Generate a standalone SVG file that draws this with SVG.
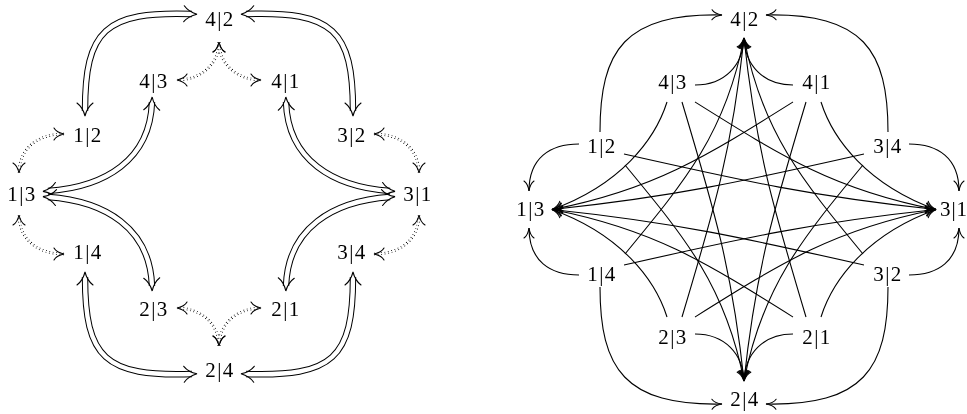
<svg xmlns="http://www.w3.org/2000/svg" width="967" height="414" viewBox="0 0 967 414">
<style>
  text { font-family: "Liberation Serif", "Times New Roman", serif; font-size: 21px; text-anchor: middle; letter-spacing: 1.5px; fill: #000; }
  .nodes { filter: grayscale(100%); }
  .ln { fill: none; stroke: #000; stroke-width: 1.1; marker-end: url(#ar); }
  .dbo { fill: none; stroke: #000; stroke-width: 6.4; }
  .dbi { fill: none; stroke: #fff; stroke-width: 4.4; }
  .dbm { fill: none; stroke: none; marker-start: url(#a2); marker-end: url(#a2); }
  .dto { fill: none; stroke: #000; stroke-width: 2.6; stroke-dasharray: 0.9 2.6; }
  .dti { fill: none; stroke: #fff; stroke-width: 1; }
  .dtm { fill: none; stroke: none; marker-start: url(#ad); marker-end: url(#ad); }
</style>
<defs>
  <marker id="ar" markerUnits="userSpaceOnUse" orient="auto-start-reverse" overflow="visible" markerWidth="1" markerHeight="1">
    <path d="M -10 -5 C -8.3 -2.4, -3.3 -0.5, 0 0 C -3.3 0.5, -8.3 2.4, -10 5" fill="none" stroke="#000" stroke-width="1.1" stroke-linecap="round"/>
  </marker>
  <marker id="ad" markerUnits="userSpaceOnUse" orient="auto-start-reverse" overflow="visible" markerWidth="1" markerHeight="1">
    <path d="M -10 -6 C -8.3 -3, -3.3 -0.7, 0 0 C -3.3 0.7, -8.3 3, -10 6" fill="none" stroke="#000" stroke-width="1.1" stroke-linecap="round"/>
  </marker>
  <marker id="a2" markerUnits="userSpaceOnUse" orient="auto-start-reverse" overflow="visible" markerWidth="1" markerHeight="1">
    <path d="M -8 -8 C -5 -4, 1 -1, 5 0 C 1 1, -5 4, -8 8" fill="none" stroke="#000" stroke-width="1.1" stroke-linecap="round"/>
  </marker>

  <g id="lq">
    <path class="dbo" d="M 85 111 C 85 30, 105 11, 192 14"/>
    <path class="dbi" d="M 85 111 C 85 30, 105 11, 192 14"/>
    <path class="dbm" d="M 85 111 C 85 30, 105 11, 192 14"/>
    <path class="dbo" d="M 152 102 C 150 160, 105 187, 48 191"/>
    <path class="dbi" d="M 152 102 C 150 160, 105 187, 48 191"/>
    <path class="dbm" d="M 152 102 C 150 160, 105 187, 48 191"/>
    <path class="dto" d="M 219 42 C 219 65, 200 80, 177 80"/>
    <path class="dti" d="M 219 42 C 219 65, 200 80, 177 80"/>
    <path class="dtm" d="M 219 42 C 219 65, 200 80, 177 80"/>
    <path class="dto" d="M 64 134 C 36 134, 19 150, 19 173"/>
    <path class="dti" d="M 64 134 C 36 134, 19 150, 19 173"/>
    <path class="dtm" d="M 64 134 C 36 134, 19 150, 19 173"/>
  </g>

  <g id="rq">
    <path class="ln" d="M 600 132 C 600 50, 625 13, 722 15"/>
    <path class="ln" d="M 579 144 C 550 144, 529 158, 529 191"/>
    <path class="ln" d="M 624 154 C 745 181.3, 812.7 196.5, 936 209.5"/>
    <path class="ln" d="M 625 165 C 686.2 239, 725.7 286.8, 744 381"/>
    <path class="ln" d="M 695 85 C 725 85, 743 65, 744 38"/>
    <path class="ln" d="M 667 102 C 655 140, 620 185, 552 209.5"/>
    <path class="ln" d="M 682 102 C 714 208.8, 732.3 270.1, 744 381"/>
    <path class="ln" d="M 695 102 C 782.2 156.7, 834.9 189.8, 936 209.5"/>
  </g>
</defs>

<rect width="967" height="414" fill="#fff"/>

<g id="connectors">
  <g id="left-connectors">
    <use href="#lq"/>
    <use href="#lq" transform="matrix(-1 0 0 1 438 0)"/>
    <use href="#lq" transform="matrix(1 0 0 -1 0 388)"/>
    <use href="#lq" transform="matrix(-1 0 0 -1 438 388)"/>
  </g>
  <g id="right-connectors">
    <use href="#rq"/>
    <use href="#rq" transform="matrix(-1 0 0 1 1488 0)"/>
    <use href="#rq" transform="matrix(1 0 0 -1 0 419)"/>
    <use href="#rq" transform="matrix(-1 0 0 -1 1488 419)"/>
  </g>
</g>

<g id="left-nodes" class="nodes">
  <g id="l42"><text x="220" y="26">4|2</text></g>
  <g id="l43"><text x="154" y="88">4|3</text></g>
  <g id="l41"><text x="286" y="88">4|1</text></g>
  <g id="l12"><text x="88" y="142">1|2</text></g>
  <g id="l32"><text x="352" y="142">3|2</text></g>
  <g id="l13"><text x="22" y="201">1|3</text></g>
  <g id="l31"><text x="418" y="201">3|1</text></g>
  <g id="l14"><text x="88" y="259">1|4</text></g>
  <g id="l34"><text x="352" y="259">3|4</text></g>
  <g id="l23"><text x="154" y="316">2|3</text></g>
  <g id="l21"><text x="286" y="316">2|1</text></g>
  <g id="l24"><text x="220" y="377">2|4</text></g>
</g>

<g id="right-nodes" class="nodes">
  <g id="r42"><text x="745" y="26">4|2</text></g>
  <g id="r43"><text x="673" y="89">4|3</text></g>
  <g id="r41"><text x="817" y="89">4|1</text></g>
  <g id="r12"><text x="602" y="153">1|2</text></g>
  <g id="r34"><text x="888" y="153">3|4</text></g>
  <g id="r13"><text x="531" y="216">1|3</text></g>
  <g id="r31"><text x="954" y="216" style="letter-spacing:1px">3|1</text></g>
  <g id="r14"><text x="602" y="281">1|4</text></g>
  <g id="r32"><text x="888" y="281">3|2</text></g>
  <g id="r23"><text x="673" y="344">2|3</text></g>
  <g id="r21"><text x="817" y="344">2|1</text></g>
  <g id="r24"><text x="745" y="406">2|4</text></g>
</g>
</svg>
